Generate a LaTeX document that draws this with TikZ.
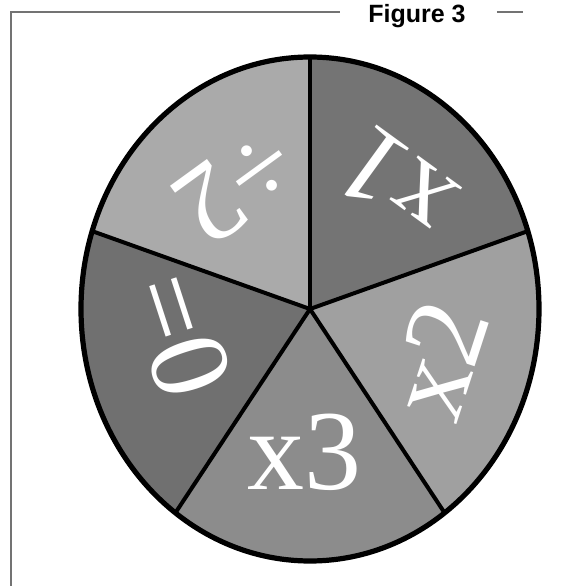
\documentclass[tikz,border=0pt]{standalone}
\usepackage{fontspec}
\setmainfont{Liberation Serif}
\newfontfamily\captionfont{Liberation Sans}
\usetikzlibrary{positioning}
\definecolor{paleslice}{RGB}{170,170,170}
\definecolor{darkslice}{RGB}{116,116,116}
\definecolor{midslice}{RGB}{140,140,140}
\definecolor{lightslice}{RGB}{160,160,160}
\definecolor{deepslice}{RGB}{112,112,112}
\definecolor{framegray}{RGB}{115,115,115}

\tikzset{
  spinlabel/.style={text=white, inner sep=0pt, font=\fontsize{57}{57}\selectfont},
  rimline/.style={line width=2.6pt, black},
  spokeline/.style={line width=2pt, black},
}

\begin{document}
\begin{tikzpicture}[x=0.5pt,y=0.5pt]
\useasboundingbox (0,0) rectangle (585,586);

% frame and caption
\node[anchor=base west, inner sep=0pt, font=\captionfont\bfseries\fontsize{12.5}{12.5}\selectfont] (caption) at (368,564) {Figure 3};
\draw[framegray, line width=1pt] (340,574) -- (11,574) -- (11,0);
\draw[framegray, line width=1pt] (497,574) -- (523,574);

% spinner
\coordinate (hub) at (310,277);
\foreach \a/\b/\c in {18/90/darkslice, 90/162/paleslice, 162/234/deepslice, 234/306/midslice, 306/378/lightslice}
  \fill[\c] (hub) -- ++(\a:229 and 252) arc[start angle=\a, end angle=\b, x radius=229, y radius=252] -- cycle;
\draw[rimline] (hub) ellipse[x radius=229, y radius=252];
\foreach \t/\n in {90/1, 18/2, -54/3, -126/4, 162/5}
  \coordinate (rim\n) at ([shift={(\t:229 and 252)}]hub);
\foreach \n in {1,...,5}
  \draw[spokeline] (hub) -- (rim\n);

% labels
\foreach \lx/\ly/\rot/\txt/\nm in {395/401/144/x1/lone, 438/226/72/x2/ltwo, 305/134/0/x3/lthree, 180/251/-72/=0/lzero, 236/401/216/÷2/lhalf}
  \node[spinlabel, rotate=\rot] (\nm) at (\lx,\ly) {\txt};
\end{tikzpicture}
\end{document}
